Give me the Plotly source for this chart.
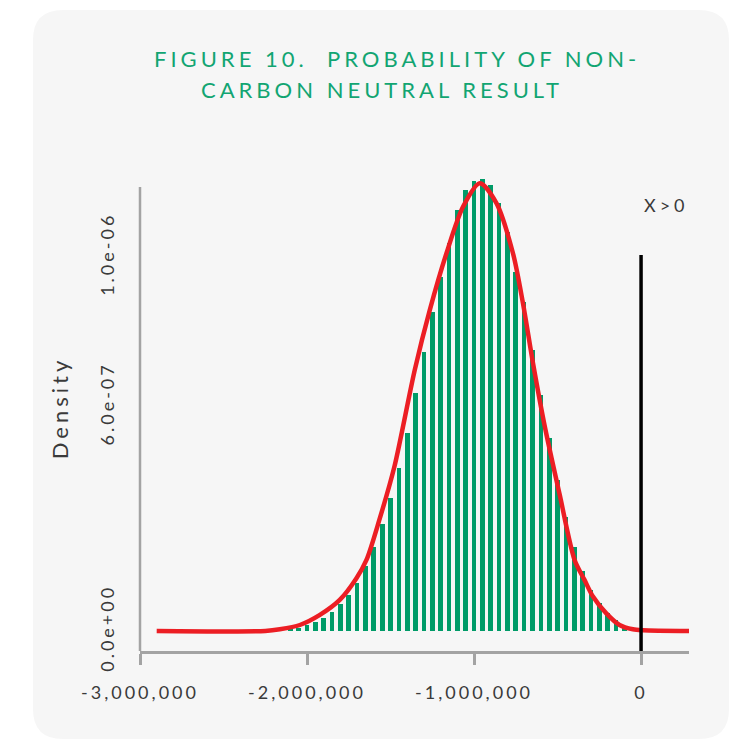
import plotly.graph_objects as go

# ---------------- data ----------------
bin_centers = [-2100000, -2050000, -2000000, -1950000, -1900000, -1850000, -1800000,
               -1750000, -1700000, -1650000, -1600000, -1550000, -1500000, -1450000,
               -1400000, -1350000, -1300000, -1250000, -1200000, -1150000, -1100000,
               -1050000, -1000000, -950000, -900000, -850000, -800000, -750000,
               -700000, -650000, -600000, -550000, -500000, -450000, -400000,
               -350000, -300000, -250000, -200000, -150000, -100000]
bar_density = [0.004e-6, 0.008e-6, 0.015e-6, 0.024e-6, 0.036e-6, 0.052e-6, 0.072e-6,
               0.097e-6, 0.128e-6, 0.175e-6, 0.225e-6, 0.285e-6, 0.355e-6, 0.435e-6,
               0.530e-6, 0.635e-6, 0.745e-6, 0.854e-6, 0.947e-6, 1.037e-6, 1.126e-6,
               1.179e-6, 1.203e-6, 1.209e-6, 1.193e-6, 1.144e-6, 1.068e-6, 0.961e-6,
               0.880e-6, 0.750e-6, 0.630e-6, 0.515e-6, 0.405e-6, 0.305e-6, 0.225e-6,
               0.160e-6, 0.110e-6, 0.075e-6, 0.048e-6, 0.029e-6, 0.014e-6]

curve_x = [-2900000, -2250000, -2163000, -2043000, -1923000, -1804000, -1704000,
           -1644000, -1567000, -1477000, -1355000, -1265000, -1165000, -1066000,
           -966000, -866000, -767000, -707000, -647000, -577000, -488000, -398000,
           -338000, -288000, -208000, -129000, -49000, 11000, 287000]
curve_density = [0.0, 0.0, 0.0045e-6, 0.016e-6, 0.043e-6, 0.083e-6, 0.141e-6,
                 0.190e-6, 0.297e-6, 0.439e-6, 0.698e-6, 0.858e-6, 1.010e-6, 1.134e-6,
                 1.197e-6, 1.144e-6, 1.010e-6, 0.876e-6, 0.716e-6, 0.548e-6, 0.366e-6,
                 0.190e-6, 0.136e-6, 0.092e-6, 0.047e-6, 0.016e-6, 0.0045e-6, 0.002e-6, 0.0]

threshold_x = 0
threshold_top = 1.005e-6
threshold_label = "X>0"

x_tickvals = [-3000000, -2000000, -1000000, 0]
x_ticktext = ["-3,000,000", "-2,000,000", "-1,000,000", "0"]
y_tickvals = [0.0, 6.0e-7, 1.0e-6]
y_ticktext = ["0.0e+00", "6.0e-07", "1.0e-06"]
y_axis_top = 1.187e-6

title_line1 = "FIGURE 10.\u00a0 PROBABILITY OF NON-"
title_line2 = "CARBON NEUTRAL RESULT"
y_title = "Density"

# ---------------- layout constants (pixels) ----------------
W, H = 743, 739
ML, MR, MT, MB = 140, 54, 165, 88
PW, PH = W - ML - MR, H - MT - MB
X_RANGE = [-3000000, 287000]
Y_RANGE = [-0.0535e-6, 1.2458e-6]

GREEN_TITLE = "#12A572"
GREEN_BAR = "#009B68"
RED = "#EC1E24"
GRAY_AXIS = "#A3A3A3"
TEXT = "#3A3A3A"
FONT = "Lato"


def px2paper(px, py):
    return (px - ML) / PW, (H - MB - py) / PH


fig = go.Figure()

fig.add_trace(go.Bar(
    x=bin_centers, y=bar_density, width=28000,
    marker=dict(color=GREEN_BAR, line=dict(width=0)),
    showlegend=False, hoverinfo="x+y",
))

fig.add_trace(go.Scatter(
    x=curve_x, y=curve_density, mode="lines",
    line=dict(color=RED, width=4.5, shape="spline", smoothing=0.8),
    showlegend=False, cliponaxis=False,
))

fig.add_trace(go.Scatter(
    x=[threshold_x, threshold_x], y=[Y_RANGE[0], threshold_top], mode="lines",
    line=dict(color="#000000", width=3.5),
    showlegend=False, cliponaxis=False,
))

# rounded card background
cx0, cy0 = px2paper(33, 739)
cx1, cy1 = px2paper(729, 10)
rx, ry = 30 / PW, 30 / PH
path = (f"M {cx0+rx},{cy1} L {cx1-rx},{cy1} Q {cx1},{cy1} {cx1},{cy1-ry} "
        f"L {cx1},{cy0+ry} Q {cx1},{cy0} {cx1-rx},{cy0} "
        f"L {cx0+rx},{cy0} Q {cx0},{cy0} {cx0},{cy0+ry} "
        f"L {cx0},{cy1-ry} Q {cx0},{cy1} {cx0+rx},{cy1} Z")
fig.add_shape(type="path", path=path, xref="paper", yref="paper",
              fillcolor="#F6F6F6", line=dict(width=0), layer="below")

# y axis line (stops below the top of the data)
fig.add_shape(type="line", xref="paper", yref="y", x0=0, x1=0,
              y0=Y_RANGE[0], y1=y_axis_top,
              line=dict(color=GRAY_AXIS, width=2.5), layer="above")

a1x, a1y = px2paper(397, 58)
a2x, a2y = px2paper(381.5, 89)
fig.add_annotation(text=title_line1, xref="paper", yref="paper", x=a1x, y=a1y,
                   xanchor="center", yanchor="middle", showarrow=False,
                   font=dict(family=FONT, size=22, color=GREEN_TITLE))
fig.add_annotation(text=title_line2, xref="paper", yref="paper", x=a2x, y=a2y,
                   xanchor="center", yanchor="middle", showarrow=False,
                   font=dict(family=FONT, size=22, color=GREEN_TITLE))
fig.add_annotation(text=threshold_label, x=152000, y=1.139e-6, xref="x", yref="y",
                   xanchor="center", yanchor="middle", showarrow=False,
                   font=dict(family=FONT, size=18, color=TEXT))

fig.update_layout(
    width=W, height=H,
    margin=dict(l=ML, r=MR, t=MT, b=MB, pad=0),
    paper_bgcolor="#FFFFFF",
    plot_bgcolor="rgba(0,0,0,0)",
    bargap=0,
    font=dict(family=FONT, color=TEXT),
    xaxis=dict(
        range=X_RANGE, showgrid=False, zeroline=False,
        showline=True, linecolor=GRAY_AXIS, linewidth=2.5,
        ticks="outside", ticklen=11, tickwidth=2.5, tickcolor=GRAY_AXIS,
        tickvals=x_tickvals, ticktext=x_ticktext,
        tickfont=dict(family=FONT, size=18, color=TEXT),
        ticklabelstandoff=13,
    ),
    yaxis=dict(
        range=Y_RANGE, showgrid=False, zeroline=False,
        showline=False,
        ticks="", tickvals=y_tickvals, ticktext=y_ticktext,
        tickangle=-90,
        tickfont=dict(family=FONT, size=18, color=TEXT),
        ticklabelstandoff=21,
        title=dict(text=y_title, font=dict(family=FONT, size=22, color=TEXT), standoff=21),
    ),
)

post = """
var s = document.createElement('style');
s.textContent = 'html, body {margin: 0; padding: 0; overflow: hidden;} .xtick text, .ytick text {letter-spacing: 3px;} .ytitle {letter-spacing: 4px;} .annotation-text {letter-spacing: 4px;}';
document.head.appendChild(s);
"""

fig.write_html("out.html", post_script=post, config={"displayModeBar": False})
